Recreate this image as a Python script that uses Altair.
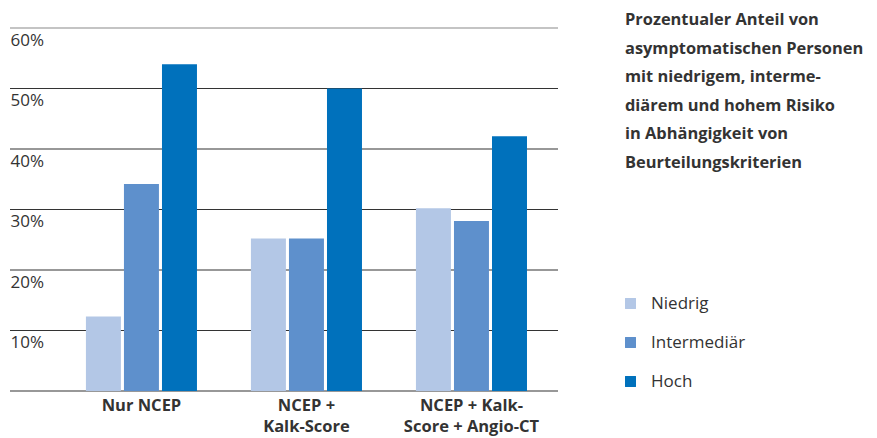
import altair as alt
import pandas as pd

categories = ["Nur NCEP", "NCEP + Kalk-Score", "NCEP + Kalk-Score + Angio-CT"]
category_lines = ["Nur NCEP", "NCEP +|Kalk-Score", "NCEP + Kalk-|Score + Angio-CT"]
series = ["Niedrig", "Intermediär", "Hoch"]
niedrig = [12.3, 25.2, 30.2]
intermediaer = [34.2, 25.2, 28.1]
hoch = [54.0, 50.0, 42.1]
colors = ["#b3c7e6", "#5e90cc", "#0071bc"]
y_ticks = [10, 20, 30, 40, 50, 60]
grid_values = [0, 10, 20, 30, 40, 50, 60]
title_text = ("Prozentualer Anteil von\nasymptomatischen Personen\nmit niedrigem, interme-\n"
              "diärem und hohem Risiko\nin Abhängigkeit von\nBeurteilungskriterien")

rows = []
for i, c in enumerate(category_lines):
    for s, vals in zip(series, [niedrig, intermediaer, hoch]):
        rows.append({"Kategorie": c, "Risiko": s, "Anteil": vals[i]})
df = pd.DataFrame(rows)

grid_df = pd.DataFrame({"v": grid_values, "top": [v == 60 for v in grid_values]})

FONT = "Open Sans"
W, H = 548, 363

y_scale = alt.Scale(domain=[0, 60], nice=False)
y_axis = alt.Axis(title=None, values=y_ticks, labelExpr="datum.value + '%'",
                  labelAlign="left", labelBaseline="top", labelPadding=0,
                  labelOffset=4, ticks=False, domain=False, grid=False,
                  labelFont=FONT, labelFontSize=17, labelColor="#333333")

grid = alt.Chart(grid_df).mark_rule(strokeWidth=1.2).encode(
    y=alt.Y("v:Q", scale=y_scale, axis=y_axis),
    x=alt.value(0),
    x2=alt.value(W),
    color=alt.condition(alt.datum.top, alt.value("#8a8a8a"), alt.value("#333333")),
)

bars = alt.Chart(df).mark_bar().encode(
    x=alt.X("Kategorie:N", sort=category_lines,
            scale=alt.Scale(paddingInner=0.327, paddingOuter=0.324, align=0.71),
            axis=alt.Axis(title=None, labelExpr="split(datum.label, '|')", labelAngle=0,
                          labelFont=FONT, labelFontSize=16.5, labelFontWeight="bold",
                          labelColor="#333333", labelLineHeight=21, labelPadding=6,
                          labelBaseline="top", ticks=False, domain=False, grid=False)),
    xOffset=alt.XOffset("Risiko:N", sort=series, scale=alt.Scale(paddingInner=0.08, paddingOuter=0)),
    y=alt.Y("Anteil:Q", scale=y_scale, axis=y_axis),
    color=alt.Color("Risiko:N", sort=series,
                    scale=alt.Scale(domain=series, range=colors),
                    legend=alt.Legend(title=None, orient="none", legendX=612, legendY=267,
                                      symbolType="square", symbolSize=120, symbolStrokeWidth=0,
                                      labelFont=FONT, labelFontSize=17, labelColor="#333333",
                                      labelOffset=12, rowPadding=21, padding=0)),
)

title = alt.Chart(pd.DataFrame({"t": [title_text]})).mark_text(
    align="left", baseline="alphabetic", lineBreak="\n", lineHeight=28.5,
    font=FONT, fontSize=16.4, fontWeight="bold", color="#333333",
).encode(text="t:N", x=alt.value(615), y=alt.value(-3))

chart = alt.layer(grid, bars, title).properties(
    width=W, height=H,
    padding={"left": 2, "top": 20, "right": 311, "bottom": 46},
    autosize=alt.AutoSizeParams(type="none"),
).configure_view(stroke=None)

chart.save("out.html", embed_options={"renderer": "svg", "actions": False})
